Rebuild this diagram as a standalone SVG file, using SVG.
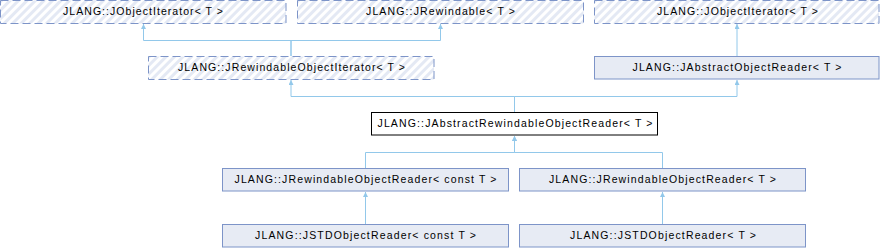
<svg xmlns="http://www.w3.org/2000/svg" width="881" height="248" viewBox="0 0 881 248">
<style>
text{font-family:"Liberation Sans",Arial,sans-serif;font-size:10.5px;fill:#000;text-anchor:middle}
.n{fill:#E7EBF4;stroke:#7D94C8;stroke-width:1}
.h{fill:url(#hatch);stroke:#7D94C8;stroke-width:1;stroke-dasharray:8,4}
.c{fill:#fff;stroke:#000;stroke-width:1}
.e{fill:none;stroke:#92C8EA;stroke-width:1;marker-end:url(#ah)}
</style>
<defs>
<pattern id="hatch" patternUnits="userSpaceOnUse" width="6" height="6" patternTransform="rotate(45)">
<rect width="6" height="6" fill="#fff"/>
<rect width="3" height="6" fill="#E4E9F4"/>
</pattern>
<marker id="ah" markerUnits="userSpaceOnUse" markerWidth="6" markerHeight="6" refX="5" refY="2.5" orient="auto">
<path d="M0,0 L5,2.5 L0,5 z" fill="#92C8EA"/>
</marker>
</defs>
<g id="connectors">
<path class="e" d="M291,56 V40.5 H143.5 V24"/>
<path class="e" d="M291,56 V40.5 H440.5 V24"/>
<path class="e" d="M737,56 V24"/>
<path class="e" d="M514.5,112 V96.5 H291 V80"/>
<path class="e" d="M514.5,112 V96.5 H737 V80"/>
<path class="e" d="M365.5,168 V152.5 H514.5 V136"/>
<path class="e" d="M662.5,168 V152.5 H514.5 V136"/>
<path class="e" d="M365.5,224 V192"/>
<path class="e" d="M662.5,224 V192"/>
</g>
<g id="JObjectIterator1">
<rect class="h" x="0.5" y="0.5" width="285.5" height="23"/>
<text x="143" y="15" textLength="160" lengthAdjust="spacing">JLANG::JObjectIterator&lt; T &gt;</text>
</g>
<g id="JRewindable">
<rect class="h" x="297.5" y="0.5" width="286" height="23"/>
<text x="440.5" y="15" textLength="149" lengthAdjust="spacing">JLANG::JRewindable&lt; T &gt;</text>
</g>
<g id="JObjectIterator2">
<rect class="h" x="594.5" y="0.5" width="284.5" height="23"/>
<text x="737.5" y="15" textLength="161" lengthAdjust="spacing">JLANG::JObjectIterator&lt; T &gt;</text>
</g>
<g id="JRewindableObjectIterator">
<rect class="h" x="148.5" y="56.5" width="285.5" height="23"/>
<text x="291.5" y="71" textLength="227" lengthAdjust="spacing">JLANG::JRewindableObjectIterator&lt; T &gt;</text>
</g>
<g id="JAbstractObjectReader">
<rect class="n" x="594.5" y="56.5" width="284.5" height="22.5"/>
<text x="737" y="70.5" textLength="209" lengthAdjust="spacing">JLANG::JAbstractObjectReader&lt; T &gt;</text>
</g>
<g id="JAbstractRewindableObjectReader">
<rect class="c" x="371.5" y="112.5" width="286" height="22.5"/>
<text x="515" y="126.5" textLength="275" lengthAdjust="spacing">JLANG::JAbstractRewindableObjectReader&lt; T &gt;</text>
</g>
<g id="JRewindableObjectReaderConst">
<rect class="n" x="222.5" y="168.5" width="286" height="22.5"/>
<text x="365.5" y="182.5" textLength="262" lengthAdjust="spacing">JLANG::JRewindableObjectReader&lt; const T &gt;</text>
</g>
<g id="JRewindableObjectReader">
<rect class="n" x="519.5" y="168.5" width="286" height="22.5"/>
<text x="662.5" y="182.5" textLength="227" lengthAdjust="spacing">JLANG::JRewindableObjectReader&lt; T &gt;</text>
</g>
<g id="JSTDObjectReaderConst">
<rect class="n" x="222.5" y="224.5" width="286" height="22.5"/>
<text x="365.5" y="238.5" textLength="221" lengthAdjust="spacing">JLANG::JSTDObjectReader&lt; const T &gt;</text>
</g>
<g id="JSTDObjectReader">
<rect class="n" x="519.5" y="224.5" width="286" height="22.5"/>
<text x="663" y="238.5" textLength="186" lengthAdjust="spacing">JLANG::JSTDObjectReader&lt; T &gt;</text>
</g>
</svg>
